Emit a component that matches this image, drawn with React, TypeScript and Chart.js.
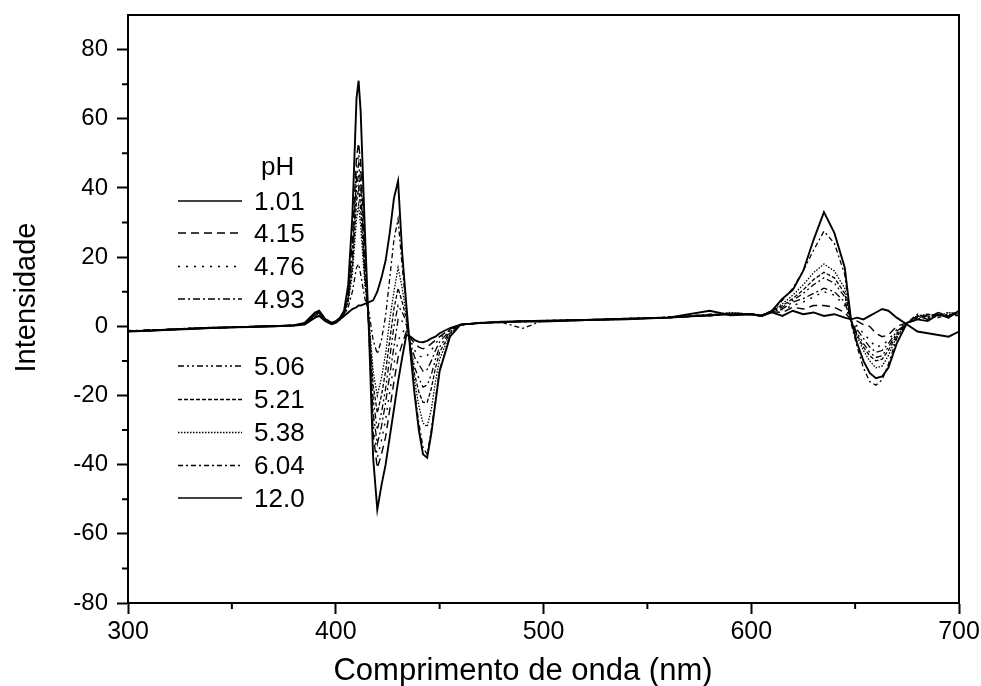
import React, { useEffect, useRef } from "react";
import { Chart, registerables } from "chart.js";

Chart.register(...registerables);

const wavelengths = [
  300, 310, 320, 330, 340, 350, 360, 370, 380,
  385, 390, 392, 395, 398,
  400, 402, 404, 406, 408,
  410, 411, 412, 414, 416, 418,
  420, 422, 424, 426, 428,
  430, 432, 434, 436, 438,
  440, 442, 444, 446, 448,
  450, 455, 460, 470, 480, 490,
  500, 520, 540, 560, 580, 590,
  600, 605, 610, 615, 620, 625, 630, 635, 640, 645,
  648, 651, 654, 657, 660, 663, 666, 670, 675,
  680, 685, 690, 695, 700,
];

const ph101 = [
  -1.5, -1.3, -1.0, -0.8, -0.5, -0.3, -0.2, 0, 0.3,
  1.0, 4.0, 4.5, 2.0, 1.0,
  1.5, 2.5, 4.5, 12, 32,
  66, 71, 62, 28, -2, -38,
  -53, -46, -40, -32, -24,
  -16, -9, -2.5, -3, -4,
  -4.5, -4.6, -4.2, -3.5, -3,
  -2, -0.5, 0.5, 1.0, 1.3, 1.5,
  1.6, 1.8, 2.2, 2.5, 3.2, 3.5,
  3.5, 3.0, 4.0, 3.0, 4.5, 3.5, 4.0, 3.0, 3.5, 2.5,
  2, 2.5, 2, 3, 4, 5, 4.5, 2.5, 0.5,
  -1.5, -2, -2.5, -3, -1.5,
];

const ph415 = [
  -1.4, -1.2, -1.0, -0.7, -0.5, -0.3, -0.1, 0, 0.2,
  0.8, 3.6, 4.3, 2.1, 1.0,
  1.4, 2.3, 4.2, 10, 25,
  49, 53, 47, 22, -2, -31,
  -41, -37, -32, -24, -16,
  -9, -5, -1.5, -3.5, -5,
  -6, -6.5, -6, -5, -4,
  -3, -0.8, 0.5, 1.1, 1.2, 1.5,
  1.5, 1.9, 2.1, 2.6, 3.0, 3.8,
  3.5, 3.2, 4.2, 4, 5.5, 5, 6, 6, 5.5, 4,
  2, 1.5, 0.5, 0, -2, -3, -2.5, 0, 1,
  3, 2, 4, 3, 4,
];

const ph476 = [
  -1.3, -1.1, -0.9, -0.6, -0.6, -0.2, -0.1, 0.1, 0.3,
  0.9, 3.8, 4.4, 2.2, 1.1,
  1.3, 2.2, 3.9, 9, 23,
  46, 50, 44, 20, -1, -28,
  -38, -33, -27, -19, -11,
  -4, -2, 0, -4, -7,
  -8.5, -9, -8.5, -7, -5,
  -3.5, -1, 0.4, 1.0, 1.2, 1.4,
  1.6, 1.7, 2.3, 2.4, 3.3, 3.5,
  3.4, 3.0, 4.4, 4.8, 6, 7, 8.5, 10, 9, 6,
  1.5, 0, -2, -4, -6, -5.5, -4, -1, 1,
  2.5, 3, 3.5, 2.5, 4,
];

const ph493 = [
  -1.5, -1.0, -1.1, -0.7, -0.3, -0.4, 0, 0.1, 0.2,
  0.7, 3.2, 4.0, 1.8, 0.9,
  1.3, 2.1, 3.7, 8.5, 21,
  43, 47, 41, 18, -1, -25,
  -34, -29, -22, -14, -6,
  2, 1.5, 0.5, -5, -9,
  -11, -13, -12.5, -10, -7,
  -4.5, -1.2, 0.4, 0.9, 1.3, 1.4,
  1.5, 1.8, 2.0, 2.6, 3.1, 3.9,
  3.5, 3.3, 4.3, 5, 7, 8, 9.5, 11, 10, 7,
  1.5, -1, -3.5, -6, -7.5, -7, -5, -1.5, 1,
  2, 3.5, 3, 4, 3.5,
];

const ph506 = [
  -1.2, -1.3, -0.8, -0.8, -0.4, -0.2, -0.2, 0, 0.4,
  0.9, 3.5, 4.1, 2.1, 1.0,
  1.2, 2.0, 3.5, 8, 19,
  40, 44, 38, 16, 0, -21,
  -30, -25, -18, -9, 0,
  6, 4, 1.5, -6, -12,
  -15, -17.6, -17, -14, -9.5,
  -6, -1.5, 0.4, 1.0, 1.1, 1.5,
  1.4, 1.9, 2.2, 2.5, 3.4, 3.6,
  3.5, 3.2, 4.4, 5.5, 7.5, 9.5, 12, 14, 12.5, 8.5,
  1.8, -2, -5, -7.5, -9, -8.5, -6, -2, 1,
  3, 2.5, 4, 3, 4.5,
];

const ph521 = [
  -1.4, -1.1, -1.0, -0.5, -0.6, -0.3, 0, 0.1, 0.3,
  0.8, 3.3, 3.9, 1.9, 1.0,
  1.2, 1.9, 3.4, 7.5, 17,
  36, 40, 34, 14, 1, -17,
  -25, -20, -13, -4, 5,
  11, 7, 2, -6, -14,
  -19, -22, -22, -18, -12,
  -7.5, -2, 0.4, 1.0, 1.2, 1.3,
  1.6, 1.8, 2.1, 2.7, 3.0, 3.7,
  3.5, 3.1, 4.5, 6, 8, 10.5, 13.5, 15.6, 14, 9.5,
  1.8, -2.5, -6, -8.5, -10, -9.5, -7, -2.5, 1,
  2.5, 3, 2.5, 3.5, 3,
];

const ph538 = [
  -1.3, -1.2, -0.9, -0.7, -0.4, -0.3, -0.1, 0, 0.2,
  0.7, 3.0, 3.6, 1.7, 0.8,
  1.1, 1.8, 3.3, 7, 15,
  31, 35, 29, 12, 2, -13,
  -20, -15, -8, 2, 10,
  17, 11, 3, -6.5, -16,
  -23, -28, -29, -24, -16,
  -9.5, -2.2, 0.5, 0.9, 1.2, 1.5,
  1.5, 1.7, 2.3, 2.4, 3.2, 4.0,
  3.5, 3.0, 4.5, 6.5, 9, 12, 15.5, 18, 16, 11,
  2, -3, -7, -10, -12, -11.5, -8.5, -3, 1,
  3, 3.5, 3, 4, 3.5,
];

const ph604 = [
  -1.5, -1.2, -1.0, -0.6, -0.5, -0.2, -0.1, 0.1, 0.3,
  0.6, 2.8, 3.3, 1.6, 0.8,
  1.0, 1.9, 3.1, 5.5, 10,
  17, 18, 15, 8, 4, -4,
  -8, -4, 3, 14, 25,
  31, 17, 5, -7.5, -19,
  -28, -35, -37, -30, -21,
  -12.5, -3, 0.5, 1.0, 1.1, -0.6,
  1.7, 1.9, 2.2, 2.6, 3.5, 3.4,
  3.4, 3.1, 4.6, 7.5, 11, 16, 22, 27.5, 24, 15,
  1, -6, -12, -16, -17, -15.5, -11, -3.5, 1,
  3.5, 2.5, 3.5, 3, 4,
];

const ph120 = [
  -1.4, -1.3, -0.9, -0.7, -0.4, -0.3, -0.1, 0, 0.2,
  0.5, 2.5, 3.0, 1.5, 0.6,
  1.0, 2.0, 3.0, 4.0, 5.0,
  5.5, 6.0, 6.0, 6.5, 7.0, 7.5,
  10, 14, 19, 27, 37,
  42, 21, 6, -8, -20,
  -30, -37, -38, -31, -22,
  -13, -3, 0.5, 1.0, 1.2, 1.4,
  1.4, 1.8, 2.0, 2.5, 4.5, 3.2,
  3.5, 3.0, 4.5, 8, 10.5, 16, 25, 33, 27, 17,
  2, -5, -10, -13.5, -15, -14.5, -12, -5, 1,
  2, 1.5, 3.5, 2.5, 4.5,
];

const seriesLabels = ["1.01", "4.15", "4.76", "4.93", "5.06", "5.21", "5.38", "6.04", "12.0"];
const seriesValues = [ph101, ph415, ph476, ph493, ph506, ph521, ph538, ph604, ph120];

const xMajorTicks = [300, 400, 500, 600, 700];
const xMinorTicks = [350, 450, 550, 650];
const yMajorTicks = [-80, -60, -40, -20, 0, 20, 40, 60, 80];
const yMinorTicks = [-70, -50, -30, -10, 10, 30, 50, 70];

const xTitle = "Comprimento de onda (nm)";
const yTitle = "Intensidade";
const legendTitle = "pH";

const FONT = '"Liberation Sans", Arial, Helvetica, sans-serif';
const lineDashes: number[][] = [[], [8, 5], [2, 6], [7, 3, 2, 3], [6, 3, 2, 3, 2, 3], [4, 2], [1.5, 1.5], [5, 3, 2, 3], []];
const lineWidths = [1.9, 1.4, 1.4, 1.3, 1.3, 1.3, 1.3, 1.3, 1.9];
const legendWidths = [1.6, 1.5, 1.6, 1.5, 1.5, 1.4, 1.4, 1.5, 1.6];
const legendRowsY = [201, 233, 266.5, 299, 366, 399.5, 432.5, 465.5, 498];

const decorPlugin = {
  id: "frameMinorTitles",
  afterDraw(chart: any) {
    const { ctx, chartArea } = chart;
    const xs = chart.scales.x;
    const ys = chart.scales.y;
    ctx.save();
    ctx.strokeStyle = "#000";
    ctx.fillStyle = "#000";
    ctx.lineWidth = 2;
    ctx.setLineDash([]);
    ctx.beginPath();
    ctx.moveTo(chartArea.left - 1, chartArea.top);
    ctx.lineTo(chartArea.right, chartArea.top);
    ctx.lineTo(chartArea.right, chartArea.bottom + 1);
    ctx.stroke();
    ctx.beginPath();
    xMinorTicks.forEach((v) => {
      const px = xs.getPixelForValue(v);
      ctx.moveTo(px, chartArea.bottom);
      ctx.lineTo(px, chartArea.bottom + 6);
    });
    yMinorTicks.forEach((v) => {
      const py = ys.getPixelForValue(v);
      ctx.moveTo(chartArea.left, py);
      ctx.lineTo(chartArea.left - 6, py);
    });
    ctx.stroke();

    // axis titles
    ctx.textAlign = "center";
    ctx.textBaseline = "alphabetic";
    ctx.font = `31px ${FONT}`;
    ctx.fillText(xTitle, 523, 680);
    ctx.save();
    ctx.translate(35, 297.5);
    ctx.rotate(-Math.PI / 2);
    ctx.font = `29px ${FONT}`;
    ctx.fillText(yTitle, 0, 0);
    ctx.restore();

    // legend
    ctx.font = `26px ${FONT}`;
    ctx.textBaseline = "middle";
    ctx.textAlign = "left";
    ctx.fillText(legendTitle, 261, 168);
    seriesLabels.forEach((lab, i) => {
      const y = legendRowsY[i];
      ctx.beginPath();
      ctx.setLineDash(lineDashes[i]);
      ctx.lineWidth = legendWidths[i];
      ctx.moveTo(178, y);
      ctx.lineTo(242, y);
      ctx.stroke();
      ctx.setLineDash([]);
      ctx.fillText(lab, 254, y + 1.5);
    });
    ctx.restore();
  },
};

export default function App() {
  const ref = useRef<HTMLCanvasElement | null>(null);
  useEffect(() => {
    if (!ref.current) return;
    const chart = new Chart(ref.current, {
      type: "line",
      data: {
        datasets: seriesValues.map((vals, i) => ({
          label: seriesLabels[i],
          data: wavelengths.map((w, j) => ({ x: w, y: vals[j] })),
          borderColor: "#000",
          backgroundColor: "#000",
          borderWidth: lineWidths[i],
          borderDash: lineDashes[i],
          pointRadius: 0,
          tension: 0,
          fill: false,
        })),
      },
      options: {
        responsive: false,
        animation: false,
        layout: { padding: { top: 15, right: 22, left: 0, bottom: 0 } },
        plugins: { legend: { display: false }, tooltip: { enabled: false } },
        scales: {
          x: {
            type: "linear",
            min: 300,
            max: 700,
            afterBuildTicks: (s: any) => {
              s.ticks = xMajorTicks.map((v) => ({ value: v }));
            },
            afterFit: (s: any) => {
              s.height = 83;
              s.paddingLeft = 0;
              s.paddingRight = 0;
            },
            grid: { drawOnChartArea: false, drawTicks: true, tickLength: 11, tickWidth: 2, tickColor: "#000" },
            border: { display: true, color: "#000", width: 2 },
            ticks: { color: "#000", font: { family: FONT, size: 25 }, padding: 3, maxRotation: 0, autoSkip: false },
            title: { display: false },
          },
          y: {
            type: "linear",
            min: -80,
            max: 90,
            afterBuildTicks: (s: any) => {
              s.ticks = yMajorTicks.map((v) => ({ value: v }));
            },
            afterFit: (s: any) => {
              s.width = 128;
              s.paddingTop = 0;
              s.paddingBottom = 0;
            },
            grid: { drawOnChartArea: false, drawTicks: true, tickLength: 11, tickWidth: 2, tickColor: "#000" },
            border: { display: true, color: "#000", width: 2 },
            ticks: { color: "#000", font: { family: FONT, size: 24 }, padding: 9, autoSkip: false },
            title: { display: false },
          },
        },
      },
      plugins: [decorPlugin],
    });
    return () => chart.destroy();
  }, []);
  return (
    <div style={{ position: "fixed", left: 0, top: 0, width: 981, height: 686, background: "#fff" }}>
      <canvas ref={ref} width={981} height={686} style={{ display: "block" }} />
    </div>
  );
}
